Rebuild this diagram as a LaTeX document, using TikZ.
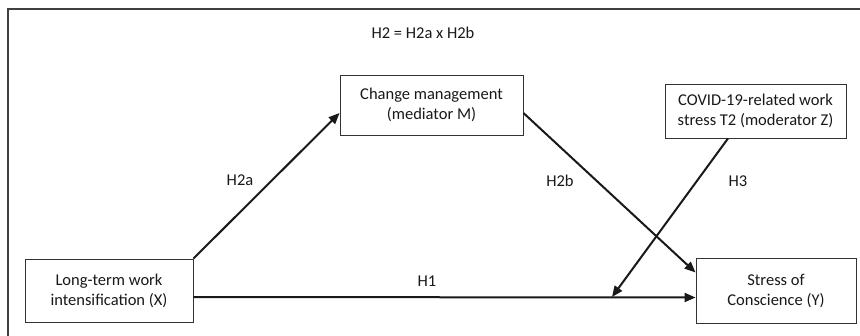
\documentclass[tikz,border=0pt]{standalone}
\usepackage{fontspec}
\setmainfont{Carlito}
\usetikzlibrary{arrows.meta,calc}
\begin{document}
\begin{tikzpicture}[x=1pt,y=-1pt,
  box/.style={draw=black!80,line width=0.9pt,align=center,inner sep=0pt,
    font=\fontsize{16.5}{20}\selectfont,text=black!90},
  lbl/.style={font=\fontsize{16.5}{20}\selectfont,text=black!90,inner sep=0pt},
  arr/.style={line width=2pt,draw=black!90,-{Triangle[length=11pt,width=9pt]}},
  ln/.style={line width=2pt,draw=black!90}]
\useasboundingbox (0,0) rectangle (860,335);
\fill[white] (0,0) rectangle (860,335);
\coordinate (fbl) at (8,340);
\coordinate (ftl) at (8,9);
\coordinate (ftr) at (865,9);
\draw[black!75,line width=1.3pt] (fbl) -- (ftl) -- (ftr);
\node[lbl] (title) at (423,33) {H2 = H2a x H2b};
\node[box,minimum width=168pt,minimum height=63pt] (X) at (109,290.5) {Long-term work\\intensification (X)};
\node[box,minimum width=183pt,minimum height=60pt] (M) at (431.5,105) {Change management\\(mediator M)};
\node[box,minimum width=181pt,minimum height=54pt] (Z) at (755.5,111) {COVID-19-related work\\stress T2 (moderator Z)};
\node[box,minimum width=160pt,minimum height=65pt] (Y) at (776,290.5) {Stress of\\Conscience (Y)};
\coordinate (h1m) at (612,297);
\draw[arr] (X.north east) -- ([yshift=-8pt]M.west);
\draw[arr] ([yshift=-8pt]M.east) -- ([yshift=18pt]Y.west);
\draw[arr] ([yshift=-6.5pt]X.east) -- ([yshift=-7pt]Y.west);
\draw[arr] ([xshift=-27.5pt]Z.south) -- (h1m);
\node[lbl] (h2a) at (240,180) {H2a};
\node[lbl] (h2b) at (560,181) {H2b};
\node[lbl] (h3) at (738,181) {H3};
\node[lbl] (h1) at (427,281) {H1};
\end{tikzpicture}
\end{document}
